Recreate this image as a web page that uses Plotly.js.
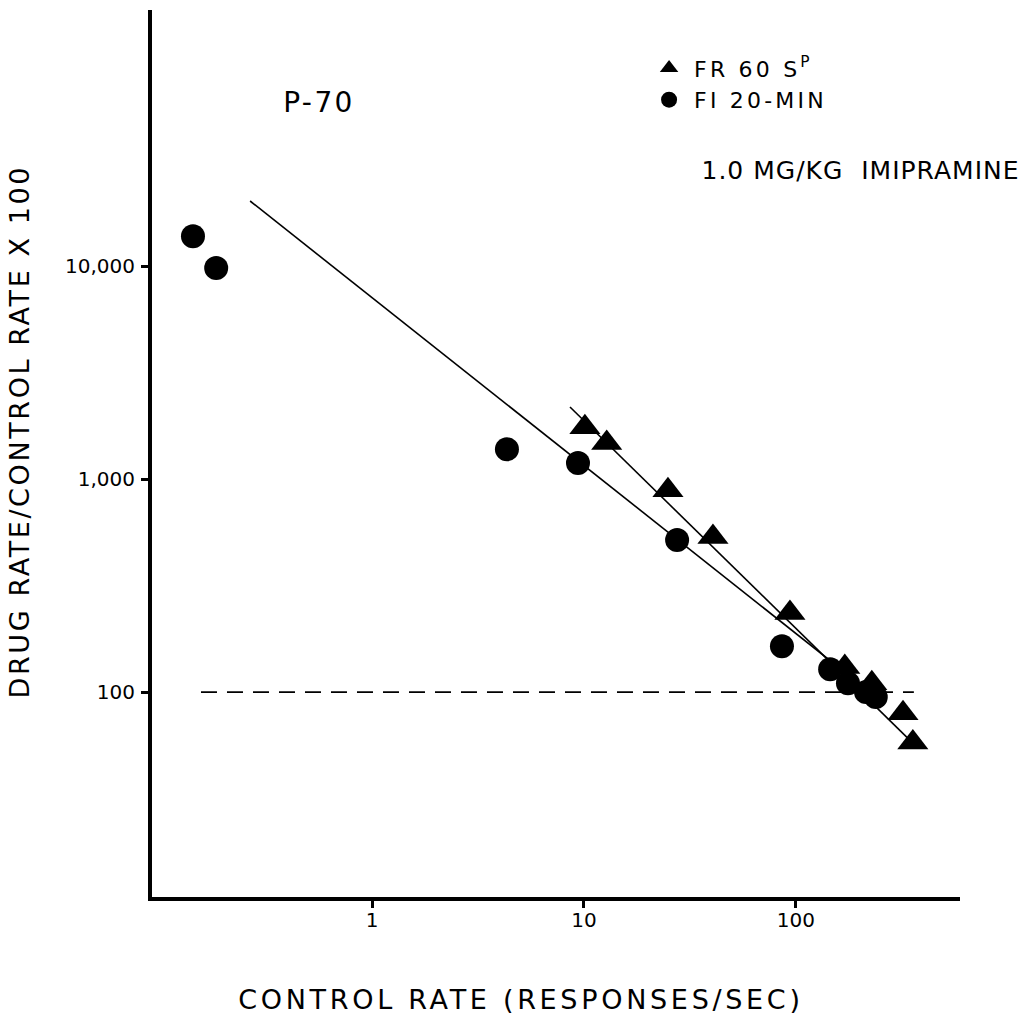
<!DOCTYPE html>
<html>
<head>
<meta charset="utf-8">
<script src="https://cdn.plot.ly/plotly-3.0.1.min.js"></script>
<style>
  html, body { margin: 0; padding: 0; background: #fff; }
  #chart { width: 1032px; height: 1017px; }
  .annotation[data-index="0"] .annotation-text { letter-spacing: 3.7px; }
  .annotation[data-index="1"] .annotation-text { letter-spacing: 2.6px; }
  .annotation[data-index="2"] .annotation-text { letter-spacing: 2.4px; }
  .annotation[data-index="3"] .annotation-text { letter-spacing: 1px; }
  .legendtext { letter-spacing: 3.2px; }
</style>
</head>
<body>
<div id="chart"></div>
<script>
// FI 20-MIN (circles): control rate (responses/sec) vs drug rate/control rate x 100
const fiX = [0.143, 0.184, 4.33, 9.37, 27.5, 85.9, 145, 176, 214, 238];
const fiY = [13800, 9800, 1380, 1190, 518, 164, 128, 110, 100, 94.8];

// FR 60 S^P (triangles)
const frX = [10.1, 12.8, 24.9, 40.6, 93.7, 170, 228, 320, 356];
const frY = [1750, 1475, 887, 534, 235, 131, 110, 79.6, 58];

// Fitted lines (end points)
const fiFitX = [0.266, 249];
const fiFitY = [20200, 91.7];
const frFitX = [8.59, 364];
const frFitY = [2180, 56.4];

// 100% reference line
const refX = [0.156, 360];
const refY = [100, 100];

// Tick labels
const xTickVals = [1, 10, 100];
const xTickText = ['1', '10', '100'];
const yTickVals = [100, 1000, 10000];
const yTickText = ['100', '1,000', '10,000'];

const FONT = 'DejaVu Sans, Liberation Sans, sans-serif';

const traces = [
  { x: refX, y: refY, mode: 'lines', showlegend: false, hoverinfo: 'skip',
    line: { color: '#000', width: 1.6, dash: '16px,10px' } },
  { x: fiFitX, y: fiFitY, mode: 'lines', showlegend: false, hoverinfo: 'skip',
    line: { color: '#000', width: 1.6 } },
  { x: frFitX, y: frFitY, mode: 'lines', showlegend: false, hoverinfo: 'skip',
    line: { color: '#000', width: 1.6 } },
  { x: frX, y: frY, mode: 'markers', name: 'FR 60 S<sup>P</sup>',
    marker: { symbol: 'triangle-up', size: 27, color: '#000' } },
  { x: fiX, y: fiY, mode: 'markers', name: 'FI 20-MIN',
    marker: { symbol: 'circle', size: 24, color: '#000' } }
];

const layout = {
  width: 1032, height: 1017,
  margin: { l: 152, r: 72, t: 10, b: 120 },
  paper_bgcolor: '#fff', plot_bgcolor: '#fff',
  font: { family: FONT, color: '#000' },
  showlegend: true,
  legend: {
    x: 0.609, y: 0.958, xanchor: 'left', yanchor: 'top',
    bgcolor: 'rgba(0,0,0,0)', font: { size: 22, family: FONT },
    tracegroupgap: 0, itemwidth: 40
  },
  xaxis: {
    type: 'log', range: [-1.038, 2.774],
    showgrid: false, zeroline: false,
    showline: true, linewidth: 4, linecolor: '#000',
    ticks: 'outside', ticklen: 7, tickwidth: 3, tickcolor: '#000',
    tickvals: xTickVals, ticktext: xTickText,
    tickfont: { size: 20, family: FONT },
    ticklabelstandoff: -5
  },
  yaxis: {
    type: 'log', range: [1.038, 5.202],
    showgrid: false, zeroline: false,
    showline: true, linewidth: 4, linecolor: '#000',
    ticks: 'outside', ticklen: 7, tickwidth: 3, tickcolor: '#000',
    tickvals: yTickVals, ticktext: yTickText,
    tickfont: { size: 20, family: FONT },
    ticklabelstandoff: 2
  },
  annotations: [
    { text: 'CONTROL RATE (RESPONSES/SEC)', xref: 'paper', yref: 'paper',
      x: 0.4567, y: -0.116, xanchor: 'center', yanchor: 'middle', showarrow: false,
      font: { size: 27, family: FONT } },
    { text: 'DRUG RATE/CONTROL RATE X 100', xref: 'paper', yref: 'paper',
      x: -0.1646, y: 0.5242, xanchor: 'center', yanchor: 'middle', showarrow: false,
      textangle: -90, font: { size: 27, family: FONT } },
    { text: 'P-70', xref: 'paper', yref: 'paper',
      x: 0.2067, y: 0.896, xanchor: 'center', yanchor: 'middle', showarrow: false,
      font: { size: 28, family: FONT } },
    { text: '1.0 MG/KG  IMIPRAMINE', xref: 'paper', yref: 'paper',
      x: 0.69, y: 0.8196, xanchor: 'left', yanchor: 'middle', showarrow: false,
      font: { size: 25, family: FONT } }
  ]
};

Plotly.newPlot('chart', traces, layout, { displayModeBar: false, staticPlot: true });
</script>
</body>
</html>
